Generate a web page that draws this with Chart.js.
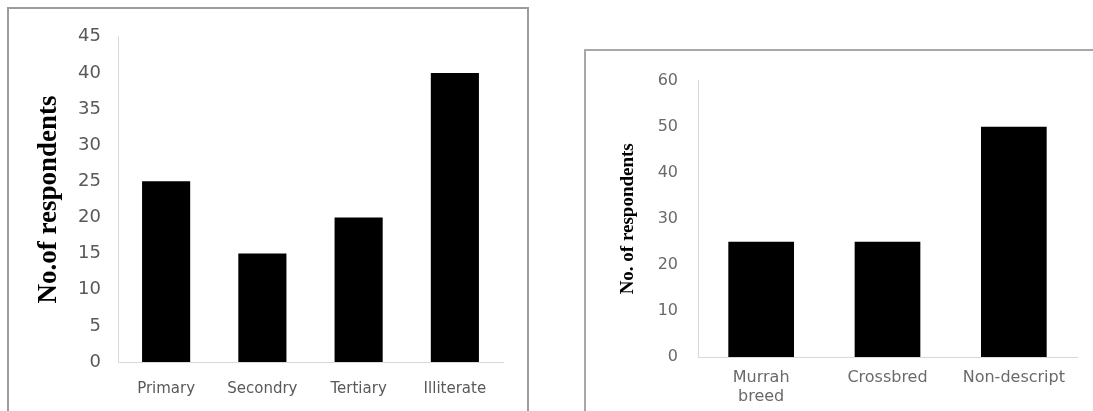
<!DOCTYPE html>
<html>
<head>
<meta charset="utf-8">
<script src="https://cdn.jsdelivr.net/npm/chart.js@4/dist/chart.umd.min.js"></script>
<style>
  body { margin: 0; background: #fff; width: 1093px; height: 411px; overflow: hidden; position: relative; }
  .frame { position: absolute; box-sizing: border-box; }
  #leftFrame { left: 7px; top: 7px; width: 522px; height: 420px; border: 2px solid #9c9c9c; }
  #rightFrame { left: 584px; top: 49px; width: 530px; height: 400px; border: 2px solid #a8a8a8; }
  .box { position: absolute; }
  #leftBox { left: 9px; top: 9px; width: 518px; height: 402px; }
  #rightBox { left: 586px; top: 51px; width: 507px; height: 360px; }
</style>
</head>
<body>
<div class="frame" id="leftFrame"></div>
<div class="frame" id="rightFrame"></div>
<div class="box" id="leftBox"><canvas id="eduChart"></canvas></div>
<div class="box" id="rightBox"><canvas id="breedChart"></canvas></div>
<script>
// Education level of respondents
const eduLabels = ["Primary", "Secondry", "Tertiary", "Illiterate"];
const eduValues = [25, 15, 20, 40];

// Breed of animals kept
const breedLabels = [["Murrah", "breed"], "Crossbred", "Non-descript"];
const breedValues = [25, 25, 50];

const axisGray = "#d9d9d9";

function makeChart(id, labels, values, opts) {
  const ctx = document.getElementById(id).getContext("2d");
  return new Chart(ctx, {
    type: "bar",
    data: {
      labels: labels,
      datasets: [{
        data: values,
        backgroundColor: "#000000",
        borderWidth: 0,
        barPercentage: opts.barPct,
        categoryPercentage: 1,
      }],
    },
    options: {
      responsive: true,
      maintainAspectRatio: false,
      animation: false,
      layout: { padding: opts.padding },
      plugins: { legend: { display: false }, tooltip: { enabled: false } },
      scales: {
        x: {
          grid: { display: false, drawTicks: false },
          border: { display: true, color: axisGray, width: 1 },
          ticks: {
            color: opts.tickColor,
            font: { family: opts.tickFont, size: opts.xSize, lineHeight: 1.15 },
            padding: opts.xPad,
            maxRotation: 0,
            autoSkip: false,
          },
          afterFit: (axis) => { axis.height = opts.xHeight; },
        },
        y: {
          min: 0,
          max: opts.max,
          grid: { display: false, drawTicks: false },
          border: { display: true, color: axisGray, width: 1 },
          ticks: {
            stepSize: opts.step,
            color: opts.tickColor,
            font: { family: opts.tickFont, size: opts.ySize },
            padding: opts.yPad,
          },
          title: {
            display: true,
            text: opts.title,
            color: "#000",
            font: { family: "Liberation Serif", size: opts.titleSize, weight: "bold" },
            padding: { top: opts.titlePad, bottom: 0 },
          },
          afterFit: (axis) => { axis.width = opts.yWidth; },
        },
      },
    },
  });
}

makeChart("eduChart", eduLabels, eduValues, {
  barPct: 0.5,
  max: 45,
  step: 5,
  title: "No.of respondents",
  titleSize: 27,
  titlePad: 4,
  tickColor: "#595959",
  tickFont: "DejaVu Sans",
  xSize: 15,
  ySize: 18,
  xPad: 18,
  yPad: 17,
  xHeight: 49,
  yWidth: 89,
  padding: { left: 20, right: 24, top: 25, bottom: 0 },
});

makeChart("breedChart", breedLabels, breedValues, {
  barPct: 0.52,
  max: 60,
  step: 10,
  title: "No. of respondents",
  titleSize: 19,
  titlePad: 11,
  tickColor: "#6a6a6a",
  tickFont: "DejaVu Sans",
  xSize: 16,
  ySize: 16,
  xPad: 12,
  yPad: 20,
  xHeight: 54,
  yWidth: 92,
  padding: { left: 20, right: 16, top: 17, bottom: 0 },
});
</script>
</body>
</html>
